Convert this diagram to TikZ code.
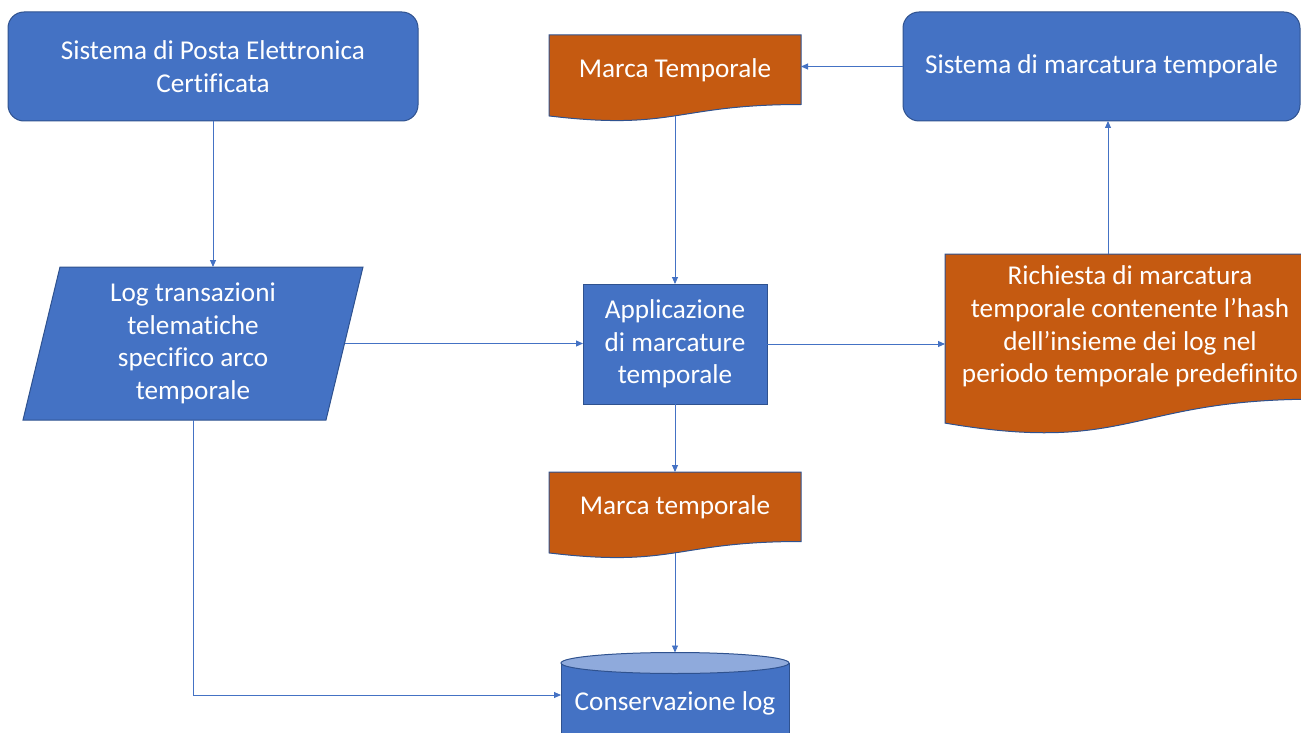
\documentclass[tikz,border=0pt]{standalone}
\usepackage{fontspec}
\setmainfont{Carlito}[Ligatures={NoCommon}]
\usetikzlibrary{arrows.meta,backgrounds,calc}
\definecolor{boxblue}{HTML}{4472C4}
\definecolor{edgeblue}{HTML}{2F528F}
\definecolor{docorange}{HTML}{C55A11}
\definecolor{cyltopfill}{HTML}{8FAADC}
\definecolor{linkblue}{HTML}{4472C4}
\tikzset{
  txt/.style={text=white, font=\fontsize{27.2}{32.6}\selectfont, align=center, inner sep=0pt, outer sep=0pt},
  roundbox/.style={txt, draw=edgeblue, fill=boxblue, line width=1pt, rounded corners=16pt},
  plainbox/.style={txt, draw=edgeblue, fill=boxblue, line width=1pt},
  hollow/.style={txt},
  docpaint/.style={fill=docorange, draw=edgeblue, line width=1pt},
  bluepaint/.style={fill=boxblue, draw=edgeblue, line width=1pt},
  toppaint/.style={fill=cyltopfill, draw=edgeblue, line width=1pt},
  link/.style={draw=linkblue, line width=0.9pt, -{Triangle[length=7pt,width=6pt]}},
}
\newcommand\drawdoc[1]{%
  \path[docpaint] let \p1=(#1.north west), \p2=(#1.south east) in
    (\x1,\y1) -- (\x2,\y1) -- (\x2,\y2)
    .. controls ({0.5*\x1+0.5*\x2},\y2) and ({0.5*\x1+0.5*\x2},{\y2+0.381*(\y2-\y1)}) ..
    (\x1,{\y2+0.1646*(\y2-\y1)}) -- cycle;}
\begin{document}
\begin{tikzpicture}[x=1pt,y=-1pt]
\useasboundingbox (0,0) rectangle (1301,733);
% nodes
\node[roundbox, minimum width=410, minimum height=109] (pec) at (213,66.5) {Sistema di Posta Elettronica\\Certificata};
\node[roundbox, minimum width=397, minimum height=109] (smt) at (1101.5,66.5) {Sistema di marcatura temporale};
\node[hollow, minimum width=252, minimum height=69.5, anchor=north] (mt1) at (675,35) {Marca Temporale};
\node[hollow, minimum width=340, minimum height=153] (log) at (193,343.5) {Log transazioni\\telematiche\\specifico arco\\temporale};
\node[plainbox, minimum width=184, minimum height=120] (app) at (675,344) {Applicazione\\di marcature\\temporale};
\node[hollow, minimum width=370, minimum height=145.2, anchor=north] (rich) at (1130,254) {Richiesta di marcatura\\temporale contenente l’hash\\dell’insieme dei log nel\\periodo temporale predefinito};
\node[hollow, minimum width=252, minimum height=69.5, anchor=north] (mt2) at (675,472) {Marca temporale};
\node[hollow, minimum width=228, minimum height=80, anchor=north] (cyl) at (675,663) {Conservazione log};
% shapes behind the texts
\begin{scope}[on background layer]
  \drawdoc{mt1}
  \drawdoc{mt2}
  \drawdoc{rich}
  \path[bluepaint] ([xshift=37pt]log.north west) -- (log.north east) -- ([xshift=-37pt]log.south east) -- (log.south west) -- cycle;
  \path[bluepaint] (cyl.north west) -- (cyl.south west) -- (cyl.south east) -- (cyl.north east) -- cycle;
  \path[toppaint] (cyl.north) ellipse [x radius=114pt, y radius=10.5pt];
\end{scope}
% connector ends
\coordinate (mt1b) at ($(mt1.south)!-0.163!(mt1.north)$);
\coordinate (mt2b) at ($(mt2.south)!-0.163!(mt2.north)$);
\coordinate (logr) at ([xshift=-18.5pt]log.east);
\coordinate (upx) at (1108,0);
\coordinate (cyltop) at ([yshift=10.5pt]cyl.north);
\coordinate (cylleft) at ([yshift=8pt]cyl.west);
% connectors
\draw[link] (smt.west) -- (smt.west -| mt1.east);
\draw[link] (mt1b) -- (app.north);
\draw[link] (pec.south) -- (pec.south |- log.north);
\draw[link] (logr) -- (logr -| app.west);
\draw[link] (app.east) -- (app.east -| rich.west);
\draw[link] (rich.north -| upx) -- (upx |- smt.south);
\draw[link] (app.south) -- (mt2.north);
\draw[link] (mt2b) -- (cyltop);
\draw[link] (log.south) |- (cylleft);
\end{tikzpicture}
\end{document}
